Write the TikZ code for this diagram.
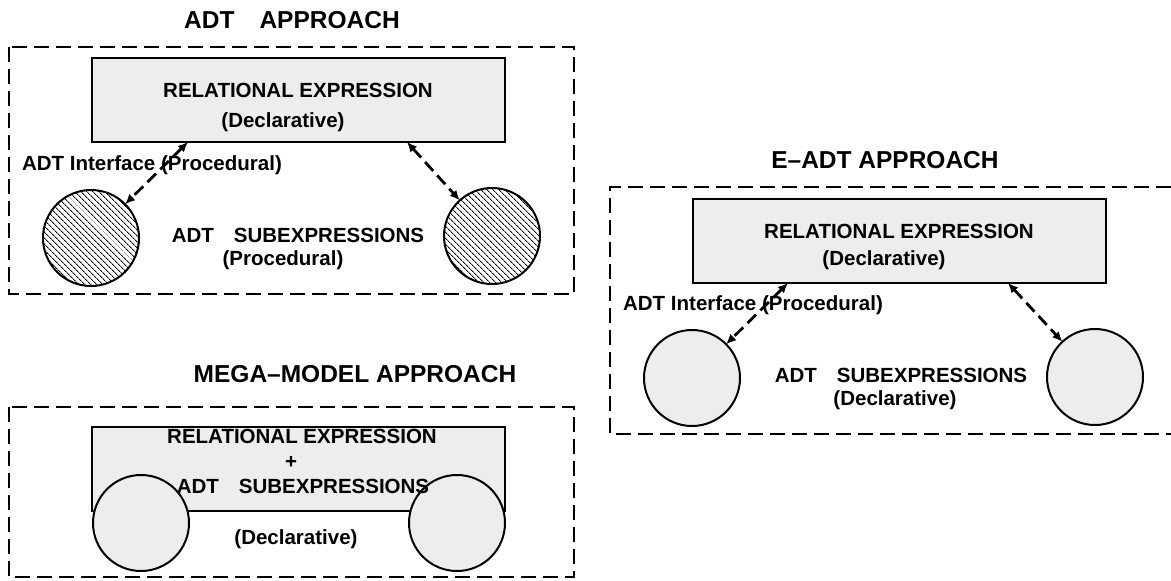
\documentclass[tikz,border=0pt]{standalone}
\usepackage{fontspec}
\setmainfont{Liberation Sans}
\usetikzlibrary{arrows.meta,patterns.meta}
\tikzset{
 frame/.style={draw, line width=1.4pt, dash pattern=on 15pt off 7pt},
 relbox/.style={draw, line width=2.6pt, fill=black!7, minimum width=413pt, minimum height=84pt, inner sep=0pt, outer sep=0pt},
 subcirc/.style={circle, draw, line width=2pt, minimum size=96pt, inner sep=0pt, outer sep=0pt},
 hatchcirc/.style={subcirc, pattern={Lines[angle=-45,distance=4pt,line width=1pt]}},
 greycirc/.style={subcirc, fill=black!7},
 lbl/.style={font=\fontsize{20.5}{24}\selectfont\bfseries, inner sep=0pt},
 ttl/.style={font=\fontsize{24.5}{29}\selectfont\bfseries, inner sep=0pt},
 link/.style={line width=2.8pt, dash pattern=on 12pt off 6pt, {Latex[length=10pt,width=9pt]}-{Latex[length=10pt,width=9pt]}},
}
\begin{document}
\begin{tikzpicture}[x=1pt,y=-1pt]
\useasboundingbox (0,0) rectangle (1171,581);
\fill[white] (0,0) rectangle (1171,581);

% ---------------- ADT APPROACH ----------------
\node[ttl] (t1) at (292,20) {ADT\hspace{25pt}APPROACH};
\draw[frame] (9,47) rectangle (574,294);
\node[relbox] (r1) at (298.5,100) {};
\node[lbl] (r1a) at (298,90) {RELATIONAL EXPRESSION};
\node[lbl] (r1b) at (283,122) {(Declarative)};
\node[hatchcirc] (c1) at (91,238) {};
\node[hatchcirc] (c2) at (492,236) {};
\node[lbl] (i1) at (152,165) {ADT Interface (Procedural)};
\node[lbl] (s1) at (298,235) {ADT\hspace{20pt}SUBEXPRESSIONS};
\node[lbl] (s1b) at (283,260) {(Procedural)};
\coordinate (p1) at (188,142);
\coordinate (p2) at (407,142);
\draw[link] (p1) -- (c1);
\draw[link] (p2) -- (c2);

% ---------------- E-ADT APPROACH ----------------
\node[ttl] (t2) at (885,160) {E--ADT APPROACH};
\draw[frame] (1171,187) -- (610,187) -- (610,434) -- (1171,434);
\node[relbox] (r2) at (899.5,241) {};
\node[lbl] (r2a) at (899,231) {RELATIONAL EXPRESSION};
\node[lbl] (r2b) at (884,260) {(Declarative)};
\node[greycirc] (c3) at (692,378) {};
\node[greycirc] (c4) at (1095,377) {};
\node[lbl] (i2) at (753,305) {ADT Interface (Procedural)};
\node[lbl] (s2) at (901,375) {ADT\hspace{20pt}SUBEXPRESSIONS};
\node[lbl] (s2b) at (895,400) {(Declarative)};
\coordinate (p3) at (788,283);
\coordinate (p4) at (1008,283);
\draw[link] (p3) -- (c3);
\draw[link] (p4) -- (c4);

% ---------------- MEGA-MODEL APPROACH ----------------
\node[ttl] (t3) at (355,374) {MEGA--MODEL APPROACH};
\draw[frame] (9,407) rectangle (574,577);
\node[relbox] (r3) at (298.5,469) {};
\node[greycirc] (c5) at (141,523) {};
\node[greycirc] (c6) at (457,523) {};
\node[lbl] (m1) at (302,436) {RELATIONAL EXPRESSION};
\node[lbl] (m2) at (291,462) {+};
\node[lbl] (m3) at (303,486) {ADT\hspace{20pt}SUBEXPRESSIONS};
\node[lbl] (m4) at (296,539) {(Declarative)};
\end{tikzpicture}
\end{document}
